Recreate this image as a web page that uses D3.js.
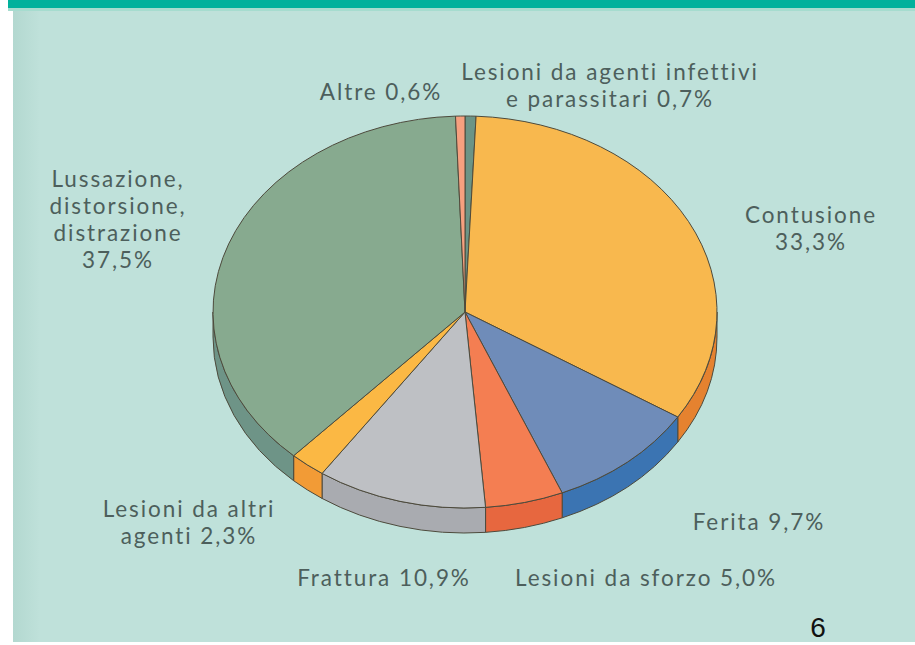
<!DOCTYPE html>
<html><head><meta charset="utf-8">
<script src="https://cdn.jsdelivr.net/npm/d3@7"></script>
<style>html,body{margin:0;padding:0;background:#fff;overflow:hidden}</style>
</head><body>
<svg id="c" width="915" height="645"></svg>
<script>
// ---- data ----
const categories = ["Lesioni da agenti infettivi e parassitari","Contusione","Ferita","Lesioni da sforzo","Frattura","Lesioni da altri agenti","Lussazione, distorsione, distrazione","Altre"];
const values = [0.7, 33.3, 9.7, 5.0, 10.9, 2.3, 37.5, 0.6];
const labelLines = [
  ["Lesioni da agenti infettivi","e parassitari 0,7%"],
  ["Contusione","33,3%"],
  ["Ferita 9,7%"],
  ["Lesioni da sforzo 5,0%"],
  ["Frattura 10,9%"],
  ["Lesioni da altri","agenti 2,3%"],
  ["Lussazione,","distorsione,","distrazione","37,5%"],
  ["Altre 0,6%"]
];
const topColors  = ["#6b9486","#f8b84e","#6f8cb9","#f47e52","#bec0c4","#fbb844","#87aa8f","#f6a07f"];
const sideColors = ["#5f8679","#e5822f","#3b74b2","#e7673f","#a9abb0","#f29b36","#6e9487","#e08a6c"];
// label anchor (centre x, first baseline y)
const labelPos = [[610,80],[811,223],[759,530],[646,586],[384,586],[189,517],[118,187],[381,100]];

const svg = d3.select("#c");
const W=915,H=645;
const defs = svg.append("defs");
const g1 = defs.append("linearGradient").attr("id","lg").attr("x1",0).attr("x2",1);
g1.append("stop").attr("offset","0").attr("stop-color","#b3d8d0");
g1.append("stop").attr("offset","0.03").attr("stop-color","#bfe1da");
g1.append("stop").attr("offset","1").attr("stop-color","#bfe1da");
svg.append("rect").attr("x",13).attr("y",10).attr("width",W-13).attr("height",632).attr("fill","url(#lg)");
svg.append("rect").attr("x",8).attr("y",0).attr("width",W-8).attr("height",8).attr("fill","#00b19c");
svg.append("rect").attr("x",8).attr("y",8).attr("width",W-8).attr("height",3).attr("fill","#a6dccf");

// pie geometry
const cx=465, cy=312, rx=252, ry=196, h=25;
const pie = d3.pie().sort(null).value(d=>d).startAngle(0).endAngle(2*Math.PI);
const arcs = pie(values);
const px = a => cx + rx*Math.sin(a);
const py = (a,dy=0) => cy - ry*Math.cos(a) + dy;

function topPath(d){
  const a0=d.startAngle,a1=d.endAngle;
  const large = (a1-a0)>Math.PI?1:0;
  return `M${cx},${cy}L${px(a0)},${py(a0)}A${rx},${ry} 0 ${large} 1 ${px(a1)},${py(a1)}Z`;
}
function sidePath(d){
  const a0=Math.max(d.startAngle,Math.PI/2), a1=Math.min(d.endAngle,3*Math.PI/2);
  if(a1<=a0) return null;
  const large=(a1-a0)>Math.PI?1:0;
  return `M${px(a0)},${py(a0)}A${rx},${ry} 0 ${large} 1 ${px(a1)},${py(a1)}`+
         `L${px(a1)},${py(a1,h)}A${rx},${ry} 0 ${large} 0 ${px(a0)},${py(a0,h)}Z`;
}
const stroke="#4d4a3c";
const gp = svg.append("g");
gp.selectAll("path.side").data(arcs.filter(d=>sidePath(d))).join("path")
  .attr("class","side").attr("d",sidePath)
  .attr("fill",d=>sideColors[d.index]).attr("stroke",stroke).attr("stroke-width",1).attr("stroke-linejoin","round");
gp.selectAll("path.top").data(arcs).join("path")
  .attr("class","top").attr("d",topPath)
  .attr("fill",d=>topColors[d.index]).attr("stroke",stroke).attr("stroke-width",1).attr("stroke-linejoin","round");

// labels
const font = "Lato, 'DejaVu Sans', sans-serif";
const fs = 22.5;
const refLabel = "Lesioni da sforzo 5,0%";
const probe = svg.append("text").attr("font-family",font).attr("font-size",fs).text(refLabel);
const ls = Math.max(0,(262 - probe.node().getComputedTextLength())/refLabel.length);
probe.remove();
const lh = 27;
const gl = svg.append("g").attr("font-family",font).attr("font-size",fs)
  .attr("letter-spacing",ls).attr("fill","#4d5f5c").attr("text-anchor","middle");
labelLines.forEach((lines,i)=>{
  const t = gl.append("text").attr("x",labelPos[i][0]).attr("y",labelPos[i][1]);
  lines.forEach((s,j)=>t.append("tspan").attr("x",labelPos[i][0]).attr("dy",j?lh:0).text(s));
});

svg.append("text").attr("x",818).attr("y",637).attr("text-anchor","middle")
  .attr("font-family","'Liberation Sans', Arial, sans-serif").attr("font-size",28).attr("fill","#111").text("6");
</script>
</body></html>
